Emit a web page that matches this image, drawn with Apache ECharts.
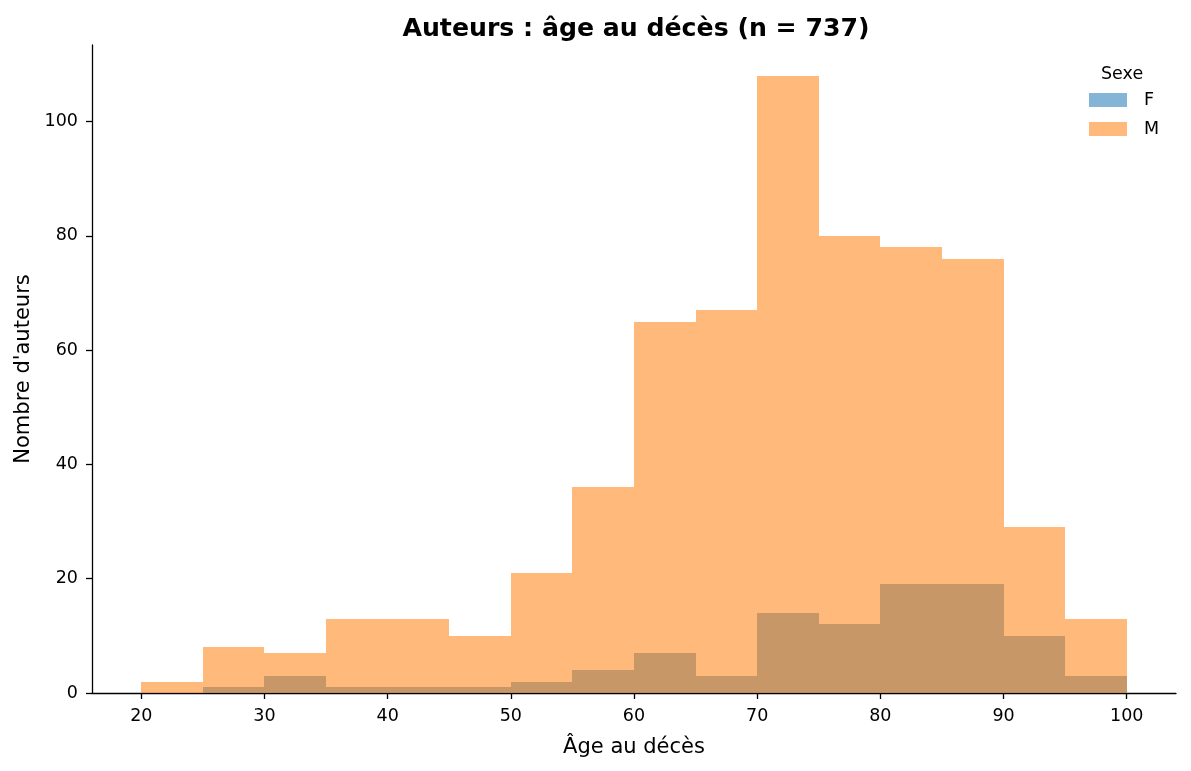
<!DOCTYPE html>
<html>
<head>
<meta charset="utf-8">
<script src="https://cdn.jsdelivr.net/npm/echarts@6/dist/echarts.min.js"></script>
<style>
html,body{margin:0;padding:0;background:#fff;}
#chart{width:1191px;height:771px;}
</style>
</head>
<body>
<div id="chart"></div>
<script>
const binStarts = [20,25,30,35,40,45,50,55,60,65,70,75,80,85,90,95];
const binEnds   = [25,30,35,40,45,50,55,60,65,70,75,80,85,90,95,100];
const countsF = [0,1,3,1,1,1,2,4,7,3,14,12,19,19,10,3];
const countsM = [2,8,7,13,13,10,21,36,65,67,108,80,78,76,29,13];
const xTicks = [20,30,40,50,60,70,80,90,100];
const yTicks = [0,20,40,60,80,100];

const FONT = 'DejaVu Sans';
function toData(counts){ return binStarts.map((s,i)=>[s, binEnds[i], counts[i]]); }
function renderBar(params, api){
  const p0 = api.coord([api.value(0), api.value(2)]);
  const p1 = api.coord([api.value(1), 0]);
  const x0 = Math.round(p0[0]), x1 = Math.round(p1[0]);
  const y0 = Math.round(p0[1]), y1 = Math.round(p1[1]);
  return {type:'rect', shape:{x:x0, y:y0, width:x1-x0, height:y1-y0},
          style:{fill: api.visual('color')}};
}
const chart = echarts.init(document.getElementById('chart'), null, {renderer:'canvas'});
chart.setOption({
  animation:false,
  backgroundColor:'#fff',
  title:{text:'Auteurs : âge au décès (n = 737)', left:631, top:12, textAlign:'center',
    textStyle:{fontFamily:FONT, fontSize:25.2, fontWeight:'bold', color:'#000'}},
  grid:{left:92, right:15, top:45, bottom:78},
  legend:{orient:'vertical', left:1089, top:91, padding:0, itemWidth:38, itemHeight:14, itemGap:11,
    icon:'rect',
    textStyle:{fontFamily:FONT, fontSize:17.5, lineHeight:14, color:'#000', padding:[0,0,0,12]},
    data:[{name:'F'},{name:'M'}]},
  graphic:[{type:'text', left:1101, top:65, style:{text:'Sexe', font:'17.5px "DejaVu Sans"', fill:'#000'}}],
  xAxis:{type:'value', min:16, max:104,
    name:'Âge au décès', nameLocation:'middle', nameGap:44,
    nameTextStyle:{fontFamily:FONT, fontSize:21, color:'#000'},
    axisLine:{show:true, lineStyle:{color:'#000', width:1.3}},
    axisTick:{show:true, inside:false, length:6, customValues:xTicks, lineStyle:{color:'#000', width:1.3}},
    axisLabel:{customValues:xTicks, fontFamily:FONT, fontSize:17.5, color:'#000', margin:14},
    splitLine:{show:false}},
  yAxis:{type:'value', min:0, max:113.4,
    name:"Nombre d'auteurs", nameLocation:'middle', nameGap:57,
    nameTextStyle:{fontFamily:FONT, fontSize:21, color:'#000'},
    axisLine:{show:true, lineStyle:{color:'#000', width:1.3}},
    axisTick:{show:true, inside:false, length:6, customValues:yTicks, lineStyle:{color:'#000', width:1.3}},
    axisLabel:{customValues:yTicks, fontFamily:FONT, fontSize:17.5, color:'#000', margin:14},
    splitLine:{show:false}},
  series:[
    {name:'F', type:'custom', renderItem:renderBar, data:toData(countsF),
     encode:{x:[0,1], y:2}, itemStyle:{color:'rgba(31,119,180,0.55)'}},
    {name:'M', type:'custom', renderItem:renderBar, data:toData(countsM),
     encode:{x:[0,1], y:2}, itemStyle:{color:'rgba(255,127,14,0.55)'}}
  ]
});
</script>
</body>
</html>
